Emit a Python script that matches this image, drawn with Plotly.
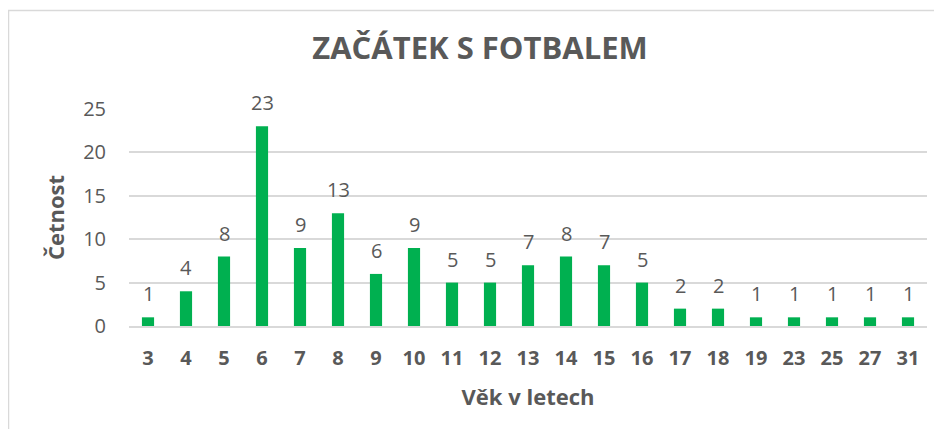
import plotly.graph_objects as go

categories = ["3", "4", "5", "6", "7", "8", "9", "10", "11", "12", "13", "14",
              "15", "16", "17", "18", "19", "23", "25", "27", "31"]
counts = [1, 4, 8, 23, 9, 13, 6, 9, 5, 5, 7, 8, 7, 5, 2, 2, 1, 1, 1, 1, 1]
y_ticks = [0, 5, 10, 15, 20, 25]

title_text = "ZAČÁTEK S FOTBALEM"
x_title = "Věk v letech"
y_title = "Četnost"

FONT = "Open Sans"
TXT = "#595959"

W, H = 926, 421
L, R, T, B = 121, 7, 101, 103
PW, PH = W - L - R, H - T - B

fig = go.Figure()
fig.add_trace(go.Bar(
    x=categories, y=counts,
    marker=dict(color="#00B050", line=dict(width=0)),
    hoverinfo="x+y",
))

for i, v in enumerate(counts):
    fig.add_annotation(x=i, y=v, text=str(v), showarrow=False,
                       xref="x", yref="y", yanchor="bottom", yshift=8,
                       font=dict(family=FONT, size=20, color=TXT))

fig.update_layout(
    width=W, height=H,
    margin=dict(l=L, r=R, t=T, b=B, autoexpand=False),
    paper_bgcolor="white", plot_bgcolor="white",
    showlegend=False,
    bargap=0.68,
    title=dict(text="<b>" + title_text + "</b>", x=472 / W, xanchor="center",
               y=1 - 40 / H, yanchor="middle",
               font=dict(family=FONT, size=31, color=TXT)),
    xaxis=dict(
        type="category", range=[-0.5, len(categories) - 0.5],
        tickfont=dict(family=FONT, size=20, color=TXT, weight="bold"),
        showgrid=False, showline=True, linecolor="#D9D9D9", linewidth=1.5,
        ticks="", ticklabelstandoff=13,
        title=dict(text="<b>" + x_title + "</b>", standoff=20,
                   font=dict(family=FONT, size=22, color=TXT)),
        automargin=False, fixedrange=True,
    ),
    yaxis=dict(
        range=[0, 25], tickvals=y_ticks,
        tickfont=dict(family=FONT, size=20, color=TXT),
        showgrid=True, gridcolor="#D9D9D9", gridwidth=1.5,
        zeroline=False, showline=False, ticks="", ticklabelstandoff=22,
        title=dict(text="<b>" + y_title + "</b>", standoff=12,
                   font=dict(family=FONT, size=22, color=TXT)),
        automargin=False, fixedrange=True,
    ),
    shapes=[dict(type="rect", xref="paper", yref="paper",
                 x0=(0.5 - L) / PW, x1=1.2,
                 y0=-0.8, y1=1 + (T - 2.5) / PH,
                 line=dict(color="#D9D9D9", width=1.5), fillcolor="rgba(0,0,0,0)",
                 layer="below")],
)

fig.write_html("out.html")
